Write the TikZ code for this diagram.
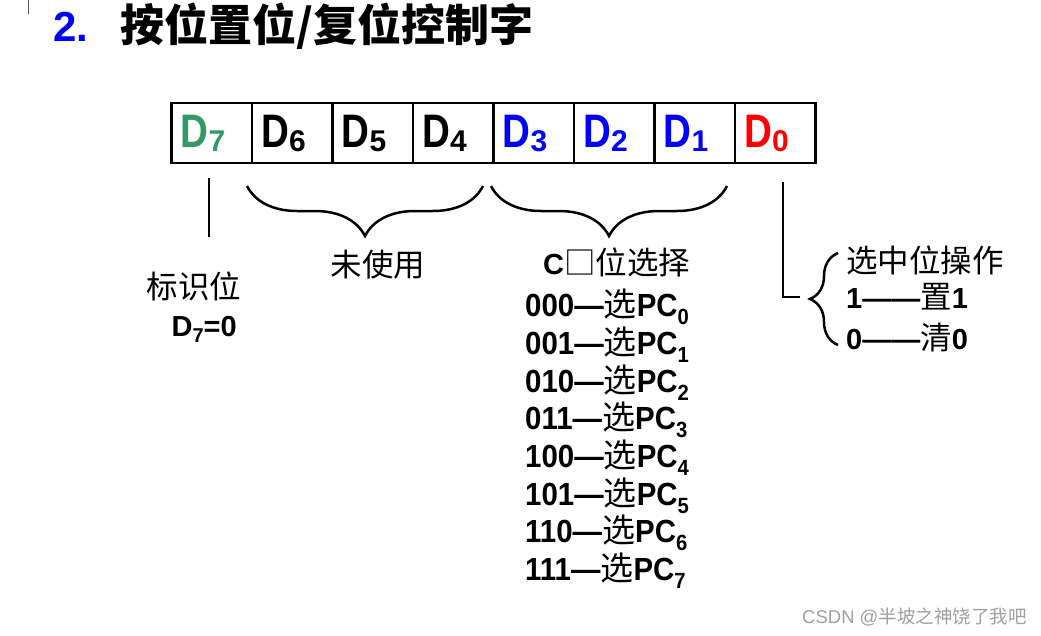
\documentclass[tikz,border=0pt]{standalone}
\usepackage{fontspec}
\setmainfont{Liberation Sans}
\newfontfamily\cjk{Noto Sans CJK SC}
\newfontfamily\narrowfont[FakeStretch=0.82]{Liberation Sans}
\newfontfamily\rowfont[FakeStretch=0.92]{Liberation Sans}
\usetikzlibrary{positioning,decorations.pathreplacing}

\definecolor{bitgreen}{RGB}{51,153,102}
\definecolor{bitblue}{RGB}{0,0,255}
\definecolor{bitred}{RGB}{255,0,0}
\definecolor{markgray}{RGB}{160,160,160}

\newcommand{\dbit}[1]{D\raisebox{-4pt}{\rmfamily\bfseries\fontsize{30}{30}\selectfont #1}}
\newcommand{\pcsel}[2]{#1—{\cjk\mdseries\fontsize{33}{38}\selectfont 选}PC\raisebox{-8pt}{\fontsize{22}{22}\selectfont #2}}

\begin{document}
\begin{tikzpicture}[
    x=1pt, y=-1pt,
    every node/.style={inner sep=0pt},
    cell/.style={draw, line width=2.5pt, minimum width=80.5pt, minimum height=60pt,
                 text width=62pt, align=left, inner xsep=9pt,
                 font=\fontsize{47}{50}\selectfont\narrowfont\bfseries},
    lbl/.style={font=\fontsize{29}{38}\selectfont\bfseries},
    zh/.style={font=\fontsize{31.5}{38}\selectfont\cjk},
    bar/.style={line width=2.5pt},
    brc/.style={line width=2.5pt, decorate},
]
\useasboundingbox (0,0) rectangle (1041,635);
\fill[white] (0,0) rectangle (1041,635);
\draw[gray!70!black, line width=0.8pt] (28,0) -- (28,14);

% title
\node[anchor=base west, text=bitblue, font=\fontsize{42}{44}\selectfont\bfseries] (num) at (53,41) {2.};
\node[anchor=base west, font=\fontsize{44}{46}\selectfont\cjk\bfseries] (title) at (120,41) {按位置位/复位控制字};

% control word
\node[cell, text=bitgreen] (d7) at (211.7,133) {\dbit{7}};
\node[cell] (d6) at (292.2,133) {\dbit{6}};
\node[cell] (d5) at (372.7,133) {\dbit{5}};
\node[cell] (d4) at (453.2,133) {\dbit{4}};
\node[cell, text=bitblue] (d3) at (533.7,133) {\dbit{3}};
\node[cell, text=bitblue] (d2) at (614.2,133) {\dbit{2}};
\node[cell, text=bitblue] (d1) at (694.7,133) {\dbit{1}};
\node[cell, text=bitred]  (d0) at (775.2,133) {\dbit{0}};

% D7
\draw[bar] (209,178) -- (209,237);
\node[zh] (flag) at (194,286) {标识位};
\node[lbl, anchor=base east] (flagval) at (237,336) {D\raisebox{-6pt}{\fontsize{20}{20}\selectfont 7}=0};

% D6..D4
\draw[brc, decoration={brace, amplitude=50pt, mirror}] (247,186) -- (483,186);
\node[zh] (unused) at (378,265) {未使用};

% D3..D1
\draw[brc, decoration={brace, amplitude=50pt, mirror}] (491,186) -- (727,186);
\node[lbl, anchor=base west] (pcsel) at (543,274) {C{\cjk\mdseries\fontsize{31.5}{38}\selectfont □位选择}};
\node[lbl, anchor=north west, align=left, font=\fontsize{32}{37.7}\selectfont\rowfont\bfseries] (pcrows) at (525,289) {%
  \pcsel{000}{0}\\ \pcsel{001}{1}\\ \pcsel{010}{2}\\ \pcsel{011}{3}\\
  \pcsel{100}{4}\\ \pcsel{101}{5}\\ \pcsel{110}{6}\\ \pcsel{111}{7}};

% D0
\coordinate (d0top) at (783,182);
\coordinate (d0turn) at (783,297);
\coordinate (optip) at (800,297);
\draw[bar] (d0top) -- (d0turn) -- (optip);
\draw[brc, decoration={brace, amplitude=28pt}] (838,345) -- (838,253);
\node[zh, anchor=west] (op) at (846,260) {选中位操作};
\node[lbl, anchor=base west] (opset) at (846,308) {1——{\cjk\mdseries\fontsize{31.5}{38}\selectfont 置}1};
\node[lbl, anchor=base west] (opclr) at (846,349) {0——{\cjk\mdseries\fontsize{31.5}{38}\selectfont 清}0};

\node[anchor=west, text=markgray, font=\fontsize{18.5}{20}\selectfont] (mark) at (802,617) {CSDN @{\cjk 半坡之神饶了我吧}};
\end{tikzpicture}
\end{document}
